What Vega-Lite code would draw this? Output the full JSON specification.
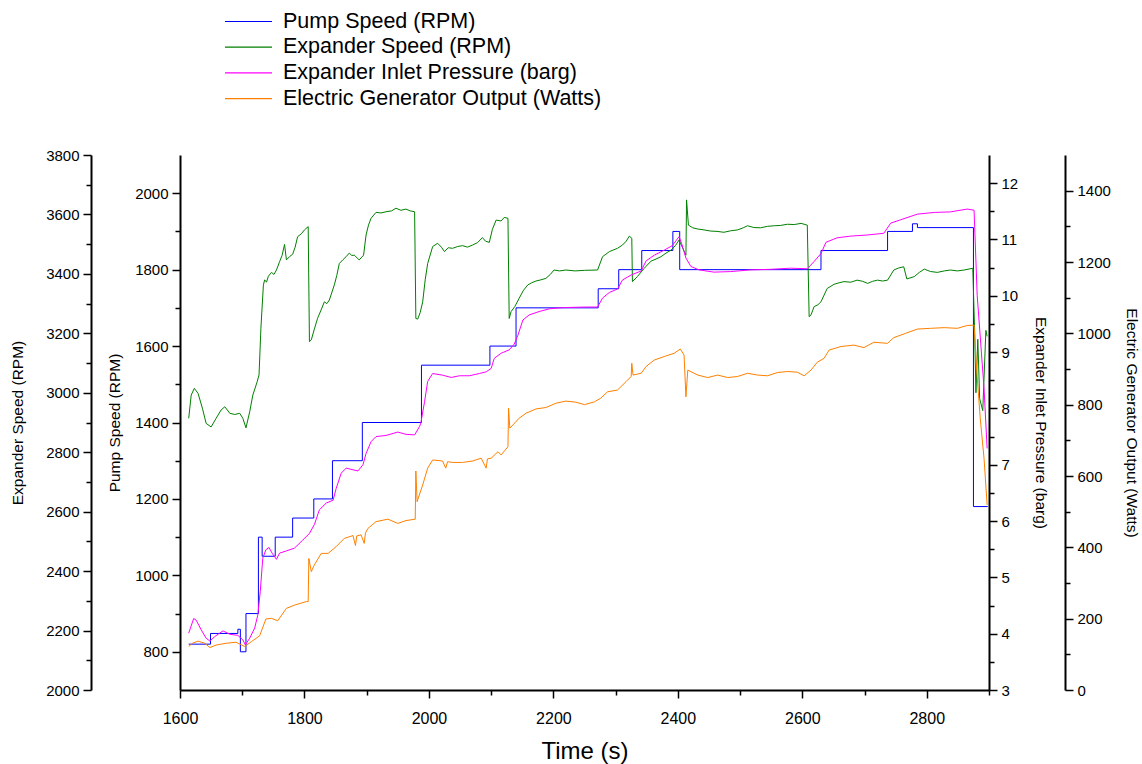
{
  "$schema": "https://vega.github.io/schema/vega-lite/v6.json",
  "width": 809,
  "height": 535,
  "autosize": {"type": "none"},
  "padding": {"left": 180, "top": 155, "right": 153, "bottom": 74},
  "background": "white",
  "config": {
    "view": {"stroke": null},
    "font": "Liberation Sans",
    "axis": {
      "grid": false,
      "domainColor": "black",
      "domainWidth": 2,
      "tickColor": "black",
      "tickWidth": 1.5,
      "labelFont": "Liberation Sans",
      "labelFontSize": 15,
      "labelColor": "black",
      "labelPadding": 4,
      "labelOverlap": false,
      "labelFlush": false,
      "titleFont": "Liberation Sans",
      "titleFontSize": 15.5,
      "titleFontWeight": "normal",
      "titleColor": "black",
      "format": "d"
    }
  },
  "datasets": {
    "pump": [
      {"t":1614,"v":820},{"t":1649,"v":848},{"t":1693,"v":859},{"t":1697,"v":800},{"t":1706,"v":900},{"t":1726,"v":1100},{"t":1732,"v":1050},{"t":1753,"v":1100},{"t":1781,"v":1150},{"t":1815,"v":1200},{"t":1845,"v":1300},{"t":1893,"v":1400},{"t":1988,"v":1550},{"t":2098,"v":1600},{"t":2140,"v":1700},{"t":2272,"v":1750},{"t":2305,"v":1800},{"t":2342,"v":1850},{"t":2392,"v":1900},{"t":2403,"v":1800},{"t":2630,"v":1850},{"t":2737,"v":1900},{"t":2777,"v":1920},{"t":2785,"v":1910},{"t":2875,"v":1180},{"t":2898,"v":1180}
    ],
    "expander": [
      {"t":1614,"v":2914},{"t":1618,"v":2992},{"t":1623,"v":3015},{"t":1629,"v":2998},{"t":1636,"v":2948},{"t":1642,"v":2897},{"t":1650,"v":2885},{"t":1658,"v":2914},{"t":1666,"v":2942},{"t":1672,"v":2953},{"t":1680,"v":2931},{"t":1688,"v":2927},{"t":1696,"v":2931},{"t":1701,"v":2914},{"t":1706,"v":2882},{"t":1712,"v":2936},{"t":1717,"v":2992},{"t":1724,"v":3037},{"t":1727,"v":3060},{"t":1730,"v":3217},{"t":1734,"v":3362},{"t":1736,"v":3380},{"t":1739,"v":3372},{"t":1742,"v":3392},{"t":1747,"v":3405},{"t":1751,"v":3398},{"t":1755,"v":3413},{"t":1760,"v":3441},{"t":1764,"v":3462},{"t":1768,"v":3499},{"t":1771,"v":3447},{"t":1776,"v":3458},{"t":1781,"v":3466},{"t":1785,"v":3490},{"t":1789,"v":3525},{"t":1795,"v":3535},{"t":1800,"v":3548},{"t":1806,"v":3559},{"t":1808,"v":3172},{"t":1811,"v":3178},{"t":1816,"v":3215},{"t":1821,"v":3250},{"t":1826,"v":3275},{"t":1832,"v":3306},{"t":1836,"v":3300},{"t":1840,"v":3312},{"t":1848,"v":3363},{"t":1852,"v":3395},{"t":1856,"v":3435},{"t":1862,"v":3448},{"t":1867,"v":3458},{"t":1872,"v":3470},{"t":1876,"v":3462},{"t":1880,"v":3463},{"t":1888,"v":3447},{"t":1895,"v":3463},{"t":1899,"v":3531},{"t":1903,"v":3565},{"t":1907,"v":3587},{"t":1915,"v":3607},{"t":1923,"v":3605},{"t":1931,"v":3609},{"t":1940,"v":3612},{"t":1947,"v":3621},{"t":1955,"v":3614},{"t":1963,"v":3618},{"t":1970,"v":3612},{"t":1977,"v":3609},{"t":1979,"v":3250},{"t":1982,"v":3248},{"t":1986,"v":3270},{"t":1990,"v":3306},{"t":1994,"v":3380},{"t":1998,"v":3435},{"t":2006,"v":3492},{"t":2014,"v":3503},{"t":2020,"v":3490},{"t":2025,"v":3475},{"t":2031,"v":3488},{"t":2038,"v":3486},{"t":2046,"v":3492},{"t":2054,"v":3495},{"t":2062,"v":3490},{"t":2070,"v":3497},{"t":2078,"v":3505},{"t":2086,"v":3522},{"t":2091,"v":3510},{"t":2097,"v":3506},{"t":2102,"v":3550},{"t":2108,"v":3581},{"t":2116,"v":3578},{"t":2121,"v":3590},{"t":2127,"v":3587},{"t":2129,"v":3250},{"t":2132,"v":3273},{"t":2138,"v":3290},{"t":2145,"v":3318},{"t":2152,"v":3345},{"t":2159,"v":3363},{"t":2165,"v":3370},{"t":2172,"v":3376},{"t":2180,"v":3380},{"t":2188,"v":3385},{"t":2195,"v":3398},{"t":2201,"v":3413},{"t":2210,"v":3410},{"t":2220,"v":3413},{"t":2235,"v":3410},{"t":2250,"v":3412},{"t":2271,"v":3413},{"t":2279,"v":3458},{"t":2290,"v":3475},{"t":2303,"v":3486},{"t":2311,"v":3497},{"t":2317,"v":3510},{"t":2322,"v":3527},{"t":2326,"v":3520},{"t":2327,"v":3374},{"t":2335,"v":3391},{"t":2346,"v":3419},{"t":2357,"v":3443},{"t":2365,"v":3450},{"t":2373,"v":3458},{"t":2381,"v":3470},{"t":2389,"v":3480},{"t":2396,"v":3495},{"t":2402,"v":3514},{"t":2413,"v":3463},{"t":2414,"v":3649},{"t":2417,"v":3564},{"t":2424,"v":3555},{"t":2432,"v":3551},{"t":2442,"v":3548},{"t":2453,"v":3544},{"t":2463,"v":3543},{"t":2474,"v":3540},{"t":2485,"v":3545},{"t":2496,"v":3548},{"t":2505,"v":3555},{"t":2512,"v":3562},{"t":2522,"v":3556},{"t":2533,"v":3555},{"t":2544,"v":3560},{"t":2555,"v":3562},{"t":2565,"v":3563},{"t":2576,"v":3567},{"t":2587,"v":3566},{"t":2598,"v":3570},{"t":2608,"v":3564},{"t":2611,"v":3256},{"t":2614,"v":3262},{"t":2619,"v":3290},{"t":2625,"v":3296},{"t":2630,"v":3306},{"t":2640,"v":3351},{"t":2651,"v":3365},{"t":2659,"v":3370},{"t":2667,"v":3374},{"t":2678,"v":3372},{"t":2688,"v":3379},{"t":2697,"v":3375},{"t":2705,"v":3368},{"t":2713,"v":3375},{"t":2721,"v":3379},{"t":2729,"v":3376},{"t":2737,"v":3379},{"t":2747,"v":3413},{"t":2755,"v":3420},{"t":2763,"v":3424},{"t":2768,"v":3383},{"t":2780,"v":3391},{"t":2788,"v":3405},{"t":2796,"v":3416},{"t":2806,"v":3408},{"t":2817,"v":3405},{"t":2828,"v":3410},{"t":2838,"v":3413},{"t":2849,"v":3410},{"t":2860,"v":3413},{"t":2874,"v":3419},{"t":2877,"v":3200},{"t":2879,"v":3000},{"t":2882,"v":3180},{"t":2885,"v":2980},{"t":2890,"v":2940},{"t":2895,"v":3210},{"t":2897,"v":3190}
    ],
    "pressure": [
      {"t":1614,"v":4.01},{"t":1622,"v":4.27},{"t":1626,"v":4.24},{"t":1634,"v":4.07},{"t":1642,"v":3.92},{"t":1648,"v":3.87},{"t":1656,"v":3.95},{"t":1669,"v":4.05},{"t":1680,"v":3.99},{"t":1693,"v":3.97},{"t":1701,"v":3.89},{"t":1705,"v":3.8},{"t":1712,"v":3.92},{"t":1720,"v":4.1},{"t":1725,"v":4.33},{"t":1729,"v":4.75},{"t":1733,"v":5.34},{"t":1738,"v":5.49},{"t":1743,"v":5.53},{"t":1748,"v":5.43},{"t":1755,"v":5.32},{"t":1760,"v":5.43},{"t":1771,"v":5.47},{"t":1784,"v":5.52},{"t":1797,"v":5.66},{"t":1808,"v":5.78},{"t":1816,"v":5.94},{"t":1824,"v":6.2},{"t":1835,"v":6.32},{"t":1846,"v":6.37},{"t":1851,"v":6.58},{"t":1859,"v":6.85},{"t":1867,"v":6.94},{"t":1878,"v":6.91},{"t":1886,"v":6.89},{"t":1894,"v":7.0},{"t":1899,"v":7.2},{"t":1907,"v":7.41},{"t":1915,"v":7.5},{"t":1931,"v":7.52},{"t":1950,"v":7.58},{"t":1963,"v":7.54},{"t":1977,"v":7.53},{"t":1985,"v":7.68},{"t":1987,"v":7.74},{"t":1993,"v":8.12},{"t":1998,"v":8.48},{"t":2006,"v":8.62},{"t":2022,"v":8.59},{"t":2036,"v":8.55},{"t":2049,"v":8.58},{"t":2065,"v":8.58},{"t":2081,"v":8.62},{"t":2092,"v":8.65},{"t":2100,"v":8.71},{"t":2105,"v":8.89},{"t":2116,"v":8.98},{"t":2129,"v":9.04},{"t":2137,"v":9.14},{"t":2143,"v":9.3},{"t":2151,"v":9.57},{"t":2161,"v":9.66},{"t":2177,"v":9.72},{"t":2194,"v":9.77},{"t":2215,"v":9.79},{"t":2250,"v":9.8},{"t":2271,"v":9.8},{"t":2279,"v":9.96},{"t":2290,"v":10.06},{"t":2303,"v":10.12},{"t":2311,"v":10.28},{"t":2325,"v":10.37},{"t":2341,"v":10.44},{"t":2349,"v":10.62},{"t":2362,"v":10.72},{"t":2378,"v":10.81},{"t":2391,"v":10.89},{"t":2402,"v":11.05},{"t":2406,"v":10.93},{"t":2413,"v":10.67},{"t":2421,"v":10.52},{"t":2434,"v":10.46},{"t":2458,"v":10.42},{"t":2485,"v":10.43},{"t":2517,"v":10.46},{"t":2549,"v":10.47},{"t":2581,"v":10.49},{"t":2608,"v":10.48},{"t":2619,"v":10.61},{"t":2630,"v":10.75},{"t":2638,"v":10.95},{"t":2656,"v":11.03},{"t":2678,"v":11.06},{"t":2705,"v":11.08},{"t":2731,"v":11.11},{"t":2742,"v":11.29},{"t":2758,"v":11.35},{"t":2785,"v":11.45},{"t":2812,"v":11.48},{"t":2838,"v":11.49},{"t":2865,"v":11.54},{"t":2876,"v":11.52},{"t":2881,"v":10.01},{"t":2892,"v":8.36},{"t":2897,"v":7.29}
    ],
    "generator": [
      {"t":1614,"v":122},{"t":1620,"v":131},{"t":1629,"v":137},{"t":1640,"v":131},{"t":1648,"v":119},{"t":1658,"v":126},{"t":1674,"v":131},{"t":1690,"v":134},{"t":1704,"v":122},{"t":1715,"v":136},{"t":1728,"v":152},{"t":1738,"v":199},{"t":1747,"v":201},{"t":1757,"v":194},{"t":1771,"v":229},{"t":1784,"v":238},{"t":1803,"v":248},{"t":1806,"v":248},{"t":1807,"v":369},{"t":1811,"v":332},{"t":1816,"v":351},{"t":1827,"v":383},{"t":1838,"v":383},{"t":1851,"v":402},{"t":1864,"v":425},{"t":1878,"v":433},{"t":1882,"v":405},{"t":1884,"v":432},{"t":1891,"v":435},{"t":1896,"v":411},{"t":1898,"v":440},{"t":1902,"v":453},{"t":1915,"v":472},{"t":1934,"v":479},{"t":1950,"v":467},{"t":1963,"v":475},{"t":1978,"v":479},{"t":1979,"v":614},{"t":1981,"v":528},{"t":1990,"v":575},{"t":1998,"v":622},{"t":2006,"v":645},{"t":2022,"v":642},{"t":2027,"v":622},{"t":2030,"v":640},{"t":2038,"v":638},{"t":2054,"v":638},{"t":2070,"v":642},{"t":2084,"v":650},{"t":2092,"v":622},{"t":2094,"v":648},{"t":2100,"v":650},{"t":2111,"v":668},{"t":2116,"v":659},{"t":2127,"v":682},{"t":2128,"v":790},{"t":2130,"v":734},{"t":2145,"v":762},{"t":2156,"v":776},{"t":2172,"v":788},{"t":2188,"v":792},{"t":2204,"v":804},{"t":2220,"v":810},{"t":2236,"v":807},{"t":2250,"v":800},{"t":2266,"v":808},{"t":2276,"v":818},{"t":2287,"v":836},{"t":2303,"v":841},{"t":2317,"v":865},{"t":2325,"v":879},{"t":2326,"v":916},{"t":2328,"v":883},{"t":2341,"v":888},{"t":2349,"v":907},{"t":2362,"v":925},{"t":2378,"v":935},{"t":2394,"v":944},{"t":2404,"v":956},{"t":2410,"v":939},{"t":2413,"v":822},{"t":2416,"v":897},{"t":2432,"v":883},{"t":2448,"v":876},{"t":2464,"v":883},{"t":2480,"v":876},{"t":2496,"v":879},{"t":2512,"v":888},{"t":2528,"v":883},{"t":2544,"v":881},{"t":2560,"v":890},{"t":2576,"v":893},{"t":2592,"v":891},{"t":2603,"v":881},{"t":2614,"v":897},{"t":2624,"v":919},{"t":2635,"v":930},{"t":2643,"v":953},{"t":2662,"v":963},{"t":2683,"v":967},{"t":2699,"v":960},{"t":2715,"v":975},{"t":2737,"v":972},{"t":2747,"v":988},{"t":2766,"v":1000},{"t":2785,"v":1012},{"t":2806,"v":1014},{"t":2828,"v":1016},{"t":2849,"v":1014},{"t":2865,"v":1022},{"t":2876,"v":1023},{"t":2881,"v":878},{"t":2886,"v":760},{"t":2892,"v":650},{"t":2897,"v":519}
    ]
  },
  "encoding": {
    "x": {
      "field": "t",
      "type": "quantitative",
      "scale": {"domain": [1600, 2900], "nice": false, "zero": false},
      "axis": {
        "title": "Time (s)",
        "titleFontSize": 24,
        "titlePadding": 13,
        "values": [1600,1700,1800,1900,2000,2100,2200,2300,2400,2500,2600,2700,2800,2900],
        "labelExpr": "datum.value % 200 === 0 ? datum.label : ''",
        "tickSize": {"condition": {"test": "datum.value % 200 === 0", "value": 8}, "value": 5},
        "labelFontSize": 16,
        "labelPadding": 12
      }
    }
  },
  "layer": [
    {
      "data": {"name": "pump"},
      "mark": {"type": "line", "interpolate": "step-after", "strokeWidth": 1},
      "encoding": {
        "y": {
          "field": "v", "type": "quantitative",
          "scale": {"domain": [700, 2100], "nice": false, "zero": false},
          "axis": {
            "orient": "left", "title": "Pump Speed (RPM)", "titlePadding": 12,
            "values": [800,900,1000,1100,1200,1300,1400,1500,1600,1700,1800,1900,2000],
            "labelExpr": "datum.value % 200 === 0 ? datum.label : ''",
            "tickSize": {"condition": {"test": "datum.value % 200 === 0", "value": 8}, "value": 5}
          }
        },
        "color": {
          "datum": "Pump Speed (RPM)",
          "type": "nominal",
          "scale": {
            "domain": ["Pump Speed (RPM)", "Expander Speed (RPM)", "Expander Inlet Pressure (barg)", "Electric Generator Output (Watts)"],
            "range": ["#0000ff", "#008000", "#ff00ff", "#ff8000"]
          },
          "legend": {
            "orient": "none", "legendX": 55, "legendY": -147,
            "title": null,
            "symbolType": "M-1.88,0L1.88,0", "symbolSize": 625, "symbolStrokeWidth": 1.2,
            "labelFont": "Liberation Sans", "labelFontSize": 21.5, "labelColor": "black",
            "labelOffset": 21, "rowPadding": 1.7, "labelLimit": 0
          }
        }
      }
    },
    {
      "data": {"name": "expander"},
      "mark": {"type": "line", "strokeWidth": 1},
      "encoding": {
        "y": {
          "field": "v", "type": "quantitative",
          "scale": {"domain": [2000, 3800], "nice": false, "zero": false},
          "axis": {
            "orient": "left", "offset": 89, "title": "Expander Speed (RPM)", "titlePadding": 20,
            "values": [2000,2100,2200,2300,2400,2500,2600,2700,2800,2900,3000,3100,3200,3300,3400,3500,3600,3700,3800],
            "labelExpr": "datum.value % 200 === 0 ? datum.label : ''",
            "tickSize": {"condition": {"test": "datum.value % 200 === 0", "value": 8}, "value": 5}
          }
        },
        "color": {"datum": "Expander Speed (RPM)", "type": "nominal"}
      }
    },
    {
      "data": {"name": "pressure"},
      "mark": {"type": "line", "strokeWidth": 1},
      "encoding": {
        "y": {
          "field": "v", "type": "quantitative",
          "scale": {"domain": [3, 12.5], "nice": false, "zero": false},
          "axis": {
            "orient": "right", "title": "Expander Inlet Pressure (barg)", "titlePadding": 15,
            "values": [3,3.5,4,4.5,5,5.5,6,6.5,7,7.5,8,8.5,9,9.5,10,10.5,11,11.5,12],
            "labelExpr": "datum.value % 1 === 0 ? datum.label : ''",
            "tickSize": {"condition": {"test": "datum.value % 1 === 0", "value": 8}, "value": 5}
          }
        },
        "color": {"datum": "Expander Inlet Pressure (barg)", "type": "nominal"}
      }
    },
    {
      "data": {"name": "generator"},
      "mark": {"type": "line", "strokeWidth": 1},
      "encoding": {
        "y": {
          "field": "v", "type": "quantitative",
          "scale": {"domain": [0, 1500], "nice": false, "zero": false},
          "axis": {
            "orient": "right", "offset": 76, "title": "Electric Generator Output (Watts)", "titlePadding": 13,
            "values": [0,100,200,300,400,500,600,700,800,900,1000,1100,1200,1300,1400],
            "labelExpr": "datum.value % 200 === 0 ? datum.label : ''",
            "tickSize": {"condition": {"test": "datum.value % 200 === 0", "value": 8}, "value": 5}
          }
        },
        "color": {"datum": "Electric Generator Output (Watts)", "type": "nominal"}
      }
    }
  ],
  "resolve": {"scale": {"y": "independent"}, "axis": {"y": "independent"}}
}
